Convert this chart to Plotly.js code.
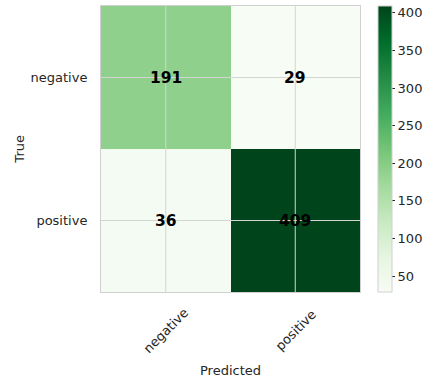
<!DOCTYPE html>
<html><head><meta charset="utf-8">
<script src="https://cdn.plot.ly/plotly-3.0.1.min.js"></script>
<style>body{margin:0;padding:0;background:#fff}</style>
</head><body>
<div id="chart" style="width:425px;height:382px"></div>
<script>
const predictedLabels = ["negative", "positive"];
const trueLabels = ["negative", "positive"];
const row_negative = [191, 29];
const row_positive = [36, 409];
const colorbarTicks = [50, 100, 150, 200, 250, 300, 350, 400];

const z = [row_negative, row_positive];
const allVals = z.flat();
const zmin = Math.min(...allVals), zmax = Math.max(...allVals);

const greens = [
  [0.0, "#f7fcf5"], [0.125, "#e5f5e0"], [0.25, "#c7e9c0"], [0.375, "#a1d99b"],
  [0.5, "#74c476"], [0.625, "#41ab5d"], [0.75, "#238b45"], [0.875, "#006d2c"], [1.0, "#00441b"]
];
const FONT = "DejaVu Sans, sans-serif";
const TXT = "#262626";

const heat = {
  type: "heatmap",
  x: predictedLabels, y: trueLabels, z: z,
  zmin: zmin, zmax: zmax,
  colorscale: greens, xgap: 0, ygap: 0,
  hoverinfo: "skip",
  colorbar: {
    x: 1.069, xanchor: "left", xpad: 0, ypad: 0,
    y: 0, yanchor: "bottom", len: 1, lenmode: "fraction",
    thickness: 14, thicknessmode: "pixels",
    outlinewidth: 1, outlinecolor: "#d0d0d0",
    tickvals: colorbarTicks, ticktext: colorbarTicks.map(String),
    ticks: "outside", ticklen: 3, tickwidth: 1, tickcolor: TXT,
    tickfont: {family: FONT, size: 13, color: TXT}
  }
};

const annotations = [];
trueLabels.forEach((t, i) => {
  predictedLabels.forEach((p, j) => {
    annotations.push({
      x: p, y: t, xref: "x", yref: "y", text: "<b>" + z[i][j] + "</b>",
      showarrow: false, font: {family: FONT, size: 15.5, color: "#000"}
    });
  });
});
predictedLabels.forEach(p => {
  annotations.push({
    x: p, xref: "x", y: -0.133, yref: "paper", xanchor: "center", yanchor: "middle",
    text: p, textangle: -45,
    showarrow: false, font: {family: FONT, size: 13, color: TXT}
  });
});
annotations.push({x: 0.5, xref: "paper", y: -0.273, yref: "paper", xanchor: "center", yanchor: "middle",
  text: "Predicted", showarrow: false, font: {family: FONT, size: 13, color: TXT}});
annotations.push({x: -0.318, xref: "paper", y: 0.5, yref: "paper", xanchor: "center", yanchor: "middle",
  text: "True", textangle: -90, showarrow: false, font: {family: FONT, size: 13, color: TXT}});

const shapes = [];
predictedLabels.forEach(p => shapes.push({type: "line", xref: "x", yref: "y domain",
  x0: p, x1: p, y0: 0, y1: 1, line: {color: "#d4d4d4", width: 1}, layer: "above"}));
trueLabels.forEach(t => shapes.push({type: "line", xref: "x domain", yref: "y",
  x0: 0, x1: 1, y0: t, y1: t, line: {color: "#d4d4d4", width: 1}, layer: "above"}));

const layout = {
  width: 425, height: 382,
  margin: {l: 101, r: 65, t: 6, b: 90, pad: 0, autoexpand: false},
  paper_bgcolor: "#fff", plot_bgcolor: "#fff",
  xaxis: {type: "category", showticklabels: false, ticks: "", showgrid: false, zeroline: false,
    showline: true, mirror: true, linecolor: "#d0d0d0", linewidth: 1, fixedrange: true},
  yaxis: {type: "category", autorange: "reversed", ticks: "", showgrid: false, zeroline: false,
    showline: true, mirror: true, linecolor: "#d0d0d0", linewidth: 1, ticklabelstandoff: 10,
    tickfont: {family: FONT, size: 13, color: TXT}, fixedrange: true},
  annotations: annotations, shapes: shapes,
  showlegend: false
};
Plotly.newPlot("chart", [heat], layout, {displayModeBar: false, staticPlot: true});
</script>
</body></html>
